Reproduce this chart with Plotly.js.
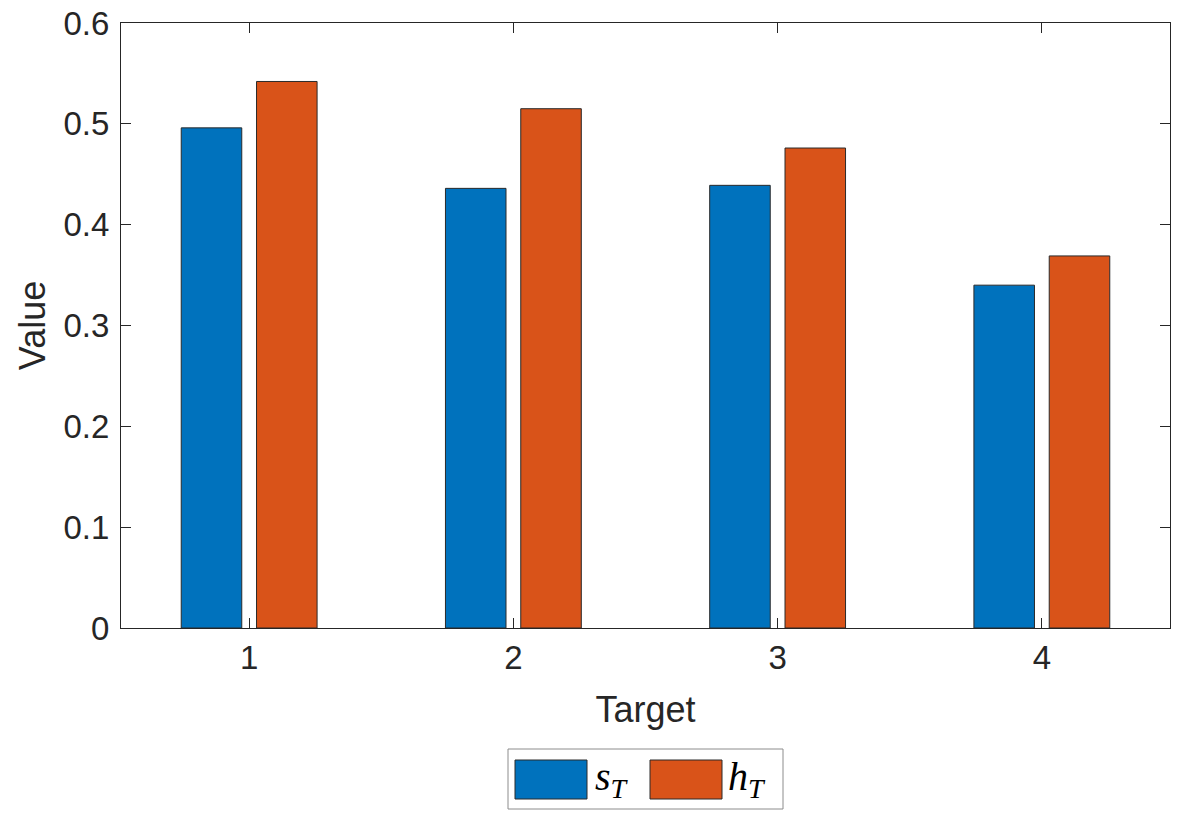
<!DOCTYPE html>
<html>
<head>
<meta charset="utf-8">
<script src="https://cdn.plot.ly/plotly-3.0.1.min.js"></script>
<style>html,body{margin:0;padding:0;background:#fff;}#chart{width:1190px;height:822px;}</style>
</head>
<body>
<div id="chart"></div>
<script>
const categories = [1, 2, 3, 4];
const sT = [0.496, 0.436, 0.439, 0.340];
const hT = [0.542, 0.515, 0.476, 0.369];
const yTicks = [0, 0.1, 0.2, 0.3, 0.4, 0.5, 0.6];
const seriesNames = ['<i>s</i><sub><i>T</i></sub>', '<i>h</i><sub><i>T</i></sub>'];
const colors = ['#0072BD', '#D95319'];

const W = 1190, H = 822;
const L = 121, R = 1170, T = 23, B = 628;
const px = x => (x - L) / (R - L);
const py = y => (B - y) / (B - T);

const axisColor = '#262626';
const fontFam = '"Liberation Sans", Arial, Helvetica, sans-serif';
const serifFam = '"Liberation Serif", "Times New Roman", serif';

const traces = [
  {type: 'bar', x: categories, y: sT, name: seriesNames[0],
   marker: {color: colors[0], line: {color: '#2a2a2a', width: 1}}, showlegend: false},
  {type: 'bar', x: categories, y: hT, name: seriesNames[1],
   marker: {color: colors[1], line: {color: '#2a2a2a', width: 1}}, showlegend: false}
];

const legendShapes = [
  {type: 'rect', xref: 'paper', yref: 'paper', x0: px(508), x1: px(783), y0: py(749), y1: py(809),
   line: {color: '#8c8c8c', width: 1}, fillcolor: '#ffffff'},
  {type: 'rect', xref: 'paper', yref: 'paper', x0: px(515), x1: px(587), y0: py(760), y1: py(799),
   line: {color: '#2a2a2a', width: 1}, fillcolor: colors[0]},
  {type: 'rect', xref: 'paper', yref: 'paper', x0: px(650), x1: px(722), y0: py(760), y1: py(799),
   line: {color: '#2a2a2a', width: 1}, fillcolor: colors[1]}
];

const legendAnn = [
  {xref: 'paper', yref: 'paper', x: px(593), y: py(779), xanchor: 'left', yanchor: 'middle',
   text: seriesNames[0], showarrow: false,
   font: {family: serifFam, size: 40, color: '#000'}},
  {xref: 'paper', yref: 'paper', x: px(726), y: py(779), xanchor: 'left', yanchor: 'middle',
   text: seriesNames[1], showarrow: false,
   font: {family: serifFam, size: 40, color: '#000'}}
];

const layout = {
  width: W, height: H,
  margin: {l: L, r: W - R, t: T, b: H - B, pad: 0},
  paper_bgcolor: '#ffffff', plot_bgcolor: '#ffffff',
  barmode: 'group', bargap: 0.43, bargroupgap: 0.196,
  font: {family: fontFam, color: axisColor},
  xaxis: {
    range: [0.515, 4.485], tickvals: categories, ticktext: categories.map(String),
    ticks: 'inside', ticklen: 10, tickwidth: 1, tickcolor: axisColor,
    showline: true, linecolor: axisColor, linewidth: 1, mirror: 'ticks',
    showgrid: false, zeroline: false, automargin: false,
    tickfont: {family: fontFam, size: 33, color: axisColor},
    title: {text: 'Target', font: {family: fontFam, size: 36, color: axisColor}, standoff: 22}
  },
  yaxis: {
    range: [0, 0.6], tickvals: yTicks, ticktext: yTicks.map(String),
    ticks: 'inside', ticklen: 10, tickwidth: 1, tickcolor: axisColor,
    ticklabelstandoff: 4,
    showline: true, linecolor: axisColor, linewidth: 1, mirror: 'ticks',
    showgrid: false, zeroline: false, automargin: false,
    tickfont: {family: fontFam, size: 33, color: axisColor},
    title: {text: 'Value', font: {family: fontFam, size: 36, color: axisColor}, standoff: 6}
  },
  shapes: legendShapes,
  annotations: legendAnn
};

Plotly.newPlot('chart', traces, layout, {displayModeBar: false, staticPlot: true});
</script>
</body>
</html>
